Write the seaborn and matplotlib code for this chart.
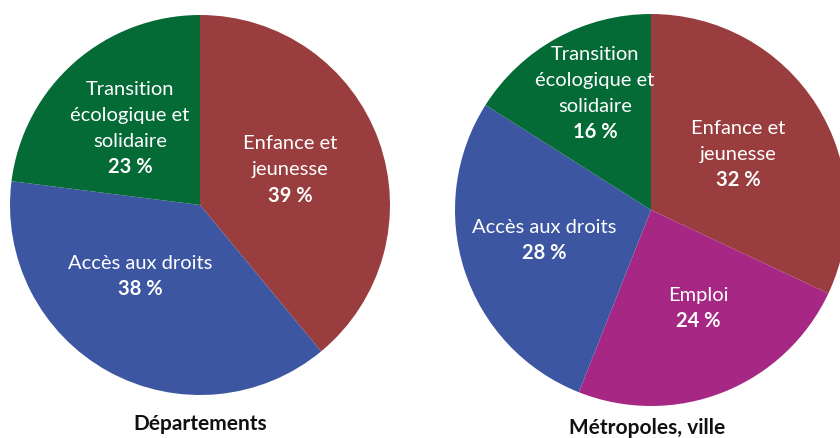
import matplotlib
matplotlib.use("Agg")
import matplotlib.pyplot as plt
import seaborn as sns

# data
dep_labels = ["Enfance et\njeunesse", "Accès aux droits", "Transition\nécologique et\nsolidaire"]
dep_values = [39, 38, 23]
met_labels = ["Enfance et\njeunesse", "Emploi", "Accès aux droits", "Transition\nécologique et\nsolidaire"]
met_values = [32, 24, 28, 16]
titles = ["Départements", "Métropoles, ville"]

colors = {
    "Enfance et\njeunesse": "#9A3D3F",
    "Accès aux droits": "#3D56A2",
    "Transition\nécologique et\nsolidaire": "#046B37",
    "Emploi": "#A72884",
}

sns.set_theme(style="white")
plt.rcParams["font.family"] = ["Lato", "DejaVu Sans"]

fig = plt.figure(figsize=(8.4, 4.39), dpi=100)
ax1 = fig.add_axes([10 / 840, 43 / 439, 380 / 840, 380 / 439])
ax2 = fig.add_axes([455 / 840, 32 / 439, 392 / 840, 392 / 439])

# label block centres inside each pie (unit-circle coords)
dep_pos = [(0.474, 0.19), (-0.316, -0.37), (-0.368, 0.41)]
met_pos = [(0.444, 0.29), (0.24, -0.495), (-0.546, -0.148), (-0.286, 0.602)]


def draw(ax, labels, values, pos, title, tx, ty, radius_px):
    ax.pie(values, colors=[colors[l] for l in labels], startangle=90,
           counterclock=False, wedgeprops=dict(linewidth=0))
    ax.set_xlim(-1, 1)
    ax.set_ylim(-1, 1)
    ax.set_aspect("equal")
    ax.axis("off")
    step = 26 / radius_px
    for lab, val, (x, y) in zip(labels, values, pos):
        lines = lab.split("\n") + [f"{val} %"]
        top = y + step * len(lines) / 2
        for i, line in enumerate(lines):
            bold = i == len(lines) - 1
            ax.text(x, top - step * i - step / 2, line, ha="center", va="center",
                    color="white", fontsize=14.5,
                    fontweight="bold" if bold else "normal")
    fig.text(tx, ty, title, ha="center", va="center",
             fontsize=15, fontweight="bold", color="#111111")


draw(ax1, dep_labels, dep_values, dep_pos, titles[0], 200 / 840, 1 - 424 / 439, 190)
draw(ax2, met_labels, met_values, met_pos, titles[1], 647 / 840, 1 - 428 / 439, 196)

fig.savefig("out.png", dpi=100, facecolor="white")
